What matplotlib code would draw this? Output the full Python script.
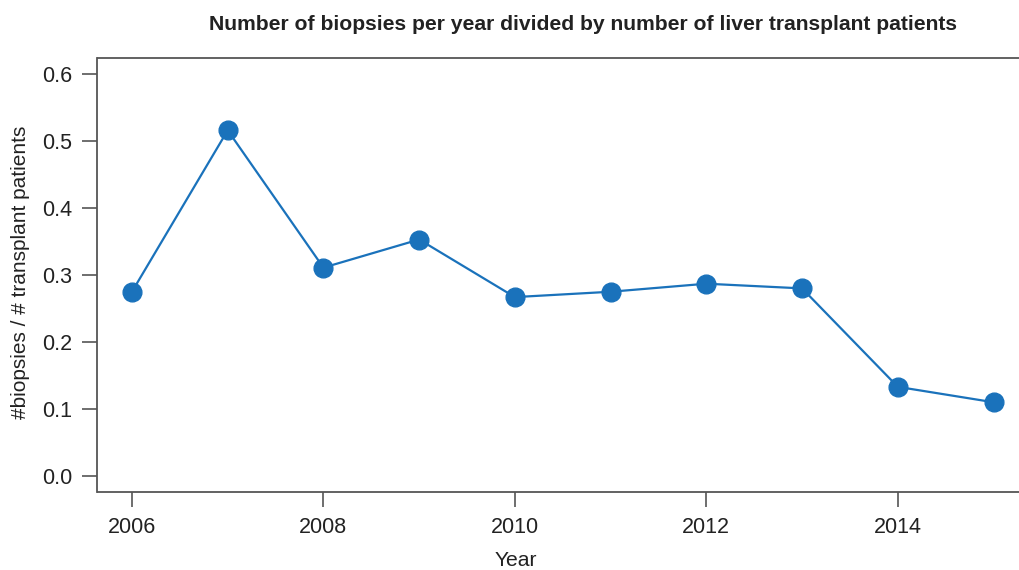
import matplotlib
matplotlib.use("Agg")
import matplotlib.pyplot as plt

years = [2006, 2007, 2008, 2009, 2010, 2011, 2012, 2013, 2014, 2015]
ratio = [0.275, 0.516, 0.311, 0.353, 0.267, 0.275, 0.287, 0.280, 0.133, 0.110]
xticks = [2006, 2008, 2010, 2012, 2014]
yticks = [0.0, 0.1, 0.2, 0.3, 0.4, 0.5, 0.6]

plt.rcParams['font.family'] = ['Liberation Sans', 'DejaVu Sans']

W, H = 1020, 570
fig = plt.figure(figsize=(W/100, H/100), dpi=100)
ax = fig.add_axes([97.5/W, 1-492/H, (1028-97.5)/W, (492-58)/H])

ax.plot(years, ratio, color='#1a72bb', lw=1.6, marker='o', ms=13.5,
        markerfacecolor='#1a72bb', markeredgecolor='#1a72bb')

ax.set_xlim(2005.64, 2015.36)
ax.set_ylim(-0.024, 0.624)
ax.set_xticks(xticks)
ax.set_xticklabels([str(x) for x in xticks])
ax.set_yticks(yticks)
ax.set_yticklabels([f"{v:.1f}" for v in yticks])

for s in ax.spines.values():
    s.set_color('#555555')
    s.set_linewidth(1.3)
ax.spines['right'].set_visible(False)
ax.tick_params(axis='both', length=10.5, width=1.2, color='#555555',
               labelsize=15.5, labelcolor='#222222', pad=7.5)

fig.text(583/W, 1-25/H, "Number of biopsies per year divided by number of liver transplant patients",
         ha='center', va='center', fontsize=15.2, fontweight='bold', color='#222222')
fig.text(515.5/W, 1-561/H, "Year", ha='center', va='center', fontsize=15.2, color='#222222')
fig.text(21/W, 1-272/H, "#biopsies / # transplant patients", ha='center', va='center',
         rotation=90, fontsize=15, color='#222222')

fig.savefig("out.png", dpi=100)
